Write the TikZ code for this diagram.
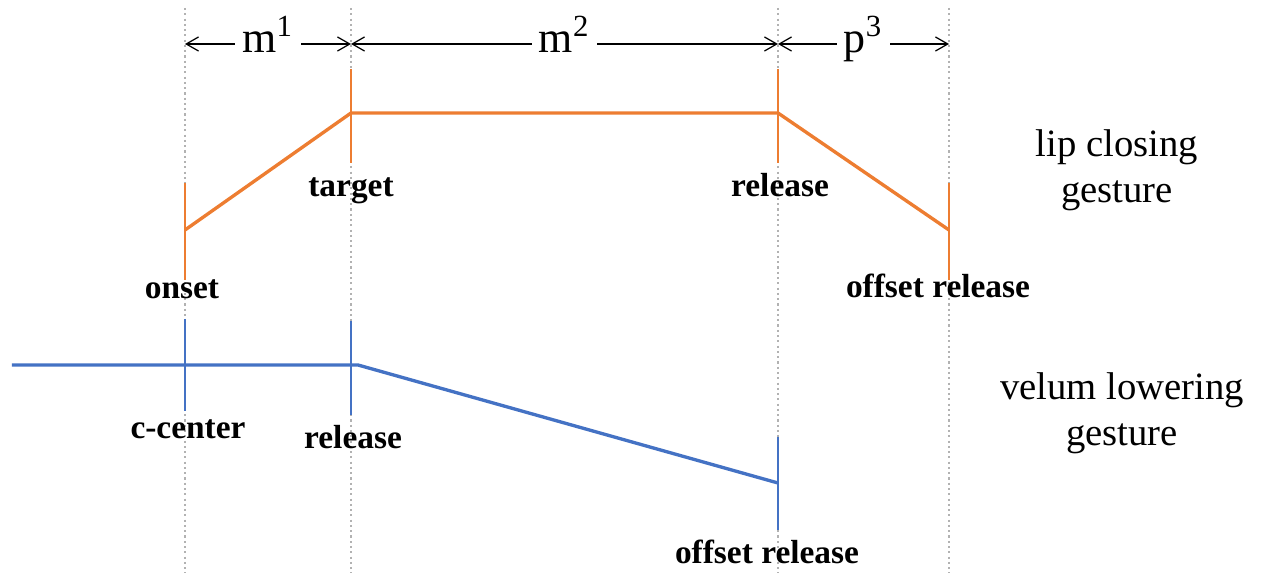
\documentclass[tikz,border=0pt]{standalone}
\usepackage{fontspec}
\setmainfont{Liberation Serif}
\usepackage{xcolor}
\usepackage{tikz}
\usetikzlibrary{arrows.meta}
\definecolor{liporange}{RGB}{237,125,49}
\definecolor{velblue}{RGB}{68,114,196}
\tikzstyle{guide} = [draw=gray!60, line width=0.5pt, dash pattern=on 0.6pt off 0.9pt]
\tikzstyle{span} = [{Straight Barb[length=3.5pt,width=4pt]}-{Straight Barb[length=3.5pt,width=4pt]}, line width=0.35pt]
\tikzstyle{spanlab} = [fill=white, inner sep=2pt, anchor=base, yshift=-0.08cm, font=\fontsize{12.5}{14}\selectfont]
\tikzstyle{lipline} = [draw=liporange, line width=0.95pt]
\tikzstyle{liptick} = [draw=liporange, line width=0.6pt]
\tikzstyle{velline} = [draw=velblue, line width=0.95pt]
\tikzstyle{veltick} = [draw=velblue, line width=0.6pt]
\tikzstyle{event} = [font=\bfseries\fontsize{9.5}{11}\selectfont, anchor=base, inner sep=0pt]
\tikzstyle{gest} = [font=\fontsize{11}{13}\selectfont, align=center]

\begin{document}
\begin{tikzpicture}[x=0.01cm, y=-0.01cm]
  \useasboundingbox (0,0) rectangle (1265,573);
  % dotted time guides
  \coordinate (g1t) at (185,8);   \coordinate (g1b) at (185,573);
  \coordinate (g2t) at (351,8);   \coordinate (g2b) at (351,573);
  \coordinate (g3t) at (778,8);   \coordinate (g3b) at (778,573);
  \coordinate (g4t) at (949,8);   \coordinate (g4b) at (949,573);
  \draw[guide] (g1t) -- (g1b);
  \draw[guide] (g2t) -- (g2b);
  \draw[guide] (g3t) -- (g3b);
  \draw[guide] (g4t) -- (g4b);
  % intervals
  \coordinate (s1) at (185,44);
  \coordinate (s2) at (351,44);
  \coordinate (s3) at (778,44);
  \coordinate (s4) at (949,44);
  \draw[span] (s1) -- node[spanlab] (m1) {m\textsuperscript{1}} (s2);
  \draw[span] (s2) -- node[spanlab] (m2) {m\textsuperscript{2}} (s3);
  \draw[span] (s3) -- node[spanlab] (p3) {p\textsuperscript{3}} (s4);
  % lip closing gesture
  \coordinate (lonset) at (185,230);
  \coordinate (ltarget) at (351,113);
  \coordinate (lrel) at (778,113);
  \coordinate (loff) at (949,230);
  \draw[lipline] (lonset) -- (ltarget) -- (lrel) -- (loff);
  \coordinate (lonsetA) at (185,183);  \coordinate (lonsetB) at (185,280);
  \coordinate (ltargetA) at (351,69);  \coordinate (ltargetB) at (351,163);
  \coordinate (lrelA) at (778,69);     \coordinate (lrelB) at (778,163);
  \coordinate (loffA) at (949,183);    \coordinate (loffB) at (949,280);
  \draw[liptick] (lonsetA) -- (lonsetB);
  \draw[liptick] (ltargetA) -- (ltargetB);
  \draw[liptick] (lrelA) -- (lrelB);
  \draw[liptick] (loffA) -- (loffB);
  \node[event] (tOnset) at (182,299) {onset};
  \node[event] (tTarget) at (351,197) {target};
  \node[event] (tRel) at (780,197) {release};
  \node[event] (tOff) at (938,298) {offset release};
  \node[gest] (lipgest) at (1117,170) {lip closing\\gesture};
  % velum lowering gesture
  \coordinate (vstart) at (12,365);
  \coordinate (vrel) at (358,365);
  \coordinate (voff) at (778,483);
  \draw[velline] (vstart) -- (vrel) -- (voff);
  \coordinate (vcenA) at (185,319);  \coordinate (vcenB) at (185,411);
  \coordinate (vrelA) at (351,321);  \coordinate (vrelB) at (351,415);
  \coordinate (voffA) at (778,437);  \coordinate (voffB) at (778,530);
  \draw[veltick] (vcenA) -- (vcenB);
  \draw[veltick] (vrelA) -- (vrelB);
  \draw[veltick] (voffA) -- (voffB);
  \node[event] (tCen) at (188,439) {c-center};
  \node[event] (tVrel) at (353,449) {release};
  \node[event] (tVoff) at (767,564) {offset release};
  \node[gest] (velgest) at (1122,413) {velum lowering\\gesture};
\end{tikzpicture}
\end{document}
